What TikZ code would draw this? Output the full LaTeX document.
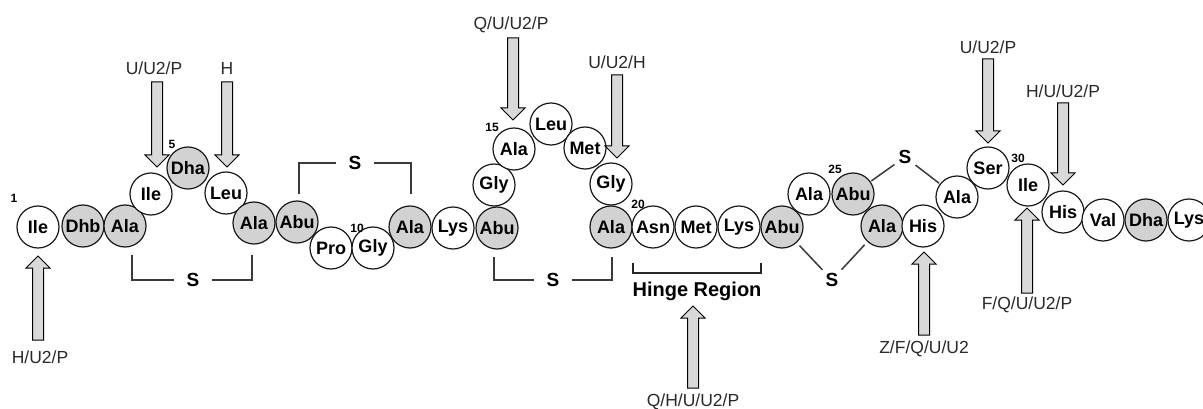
\documentclass[tikz,border=0pt]{standalone}
\usepackage{fontspec}
\setmainfont{Liberation Sans}
\definecolor{shade}{HTML}{D2D2D2}
\definecolor{arrowgray}{HTML}{D9D9D9}
\definecolor{bondgray}{HTML}{3A3A3A}
\definecolor{labgray}{HTML}{2A2A2A}
\newcommand\downblk[3]{\path[blk] ({#1-5.5},#2) -- ({#1-5.5},{#3-12}) -- ({#1-12},{#3-12}) -- (#1,#3) -- ({#1+12},{#3-12}) -- ({#1+5.5},{#3-12}) -- ({#1+5.5},#2) -- cycle;}
\newcommand\upblk[3]{\path[blk] ({#1-5.5},#2) -- ({#1-5.5},{#3+12}) -- ({#1-12},{#3+12}) -- (#1,#3) -- ({#1+12},{#3+12}) -- ({#1+5.5},{#3+12}) -- ({#1+5.5},#2) -- cycle;}
\begin{document}
\begin{tikzpicture}[x=1pt,y=-1pt,
  res/.style={circle,draw=black!90,line width=1.2pt,minimum size=42pt,inner sep=0pt,font=\fontsize{18}{18}\selectfont\bfseries,fill=white},
  dark/.style={res,fill=shade},
  num/.style={font=\fontsize{12}{12}\selectfont\bfseries,inner sep=0pt},
  lab/.style={font=\fontsize{17.5}{17.5}\selectfont,inner sep=0pt,text=labgray},
  sulf/.style={font=\fontsize{19}{19}\selectfont\bfseries,inner sep=0pt,inner xsep=12pt},
  bond/.style={draw=bondgray,line width=1.5pt},
  blk/.style={draw=black,line width=1pt,fill=arrowgray,line join=miter}]
\useasboundingbox[fill=white] (0,0) rectangle (1203,409);

% residues
\node[res]  (r1)  at (38,227)  {Ile};
\node[dark] (r2)  at (83,226)  {Dhb};
\node[dark] (r3)  at (125,226) {Ala};
\node[res]  (r4)  at (151,194) {Ile};
\node[dark] (r5)  at (188,168) {Dha};
\node[res]  (r6)  at (226,193) {Leu};
\node[dark] (r7)  at (254,223) {Ala};
\node[dark] (r8)  at (297,222) {Abu};
\node[res]  (r9)  at (331,248) {Pro};
\node[res]  (r10) at (373,248) {Gly};
\node[dark] (r11) at (410,227) {Ala};
\node[res]  (r12) at (453,228) {Lys};
\node[dark] (r13) at (497,228) {Abu};
\node[res]  (r14) at (494,185) {Gly};
\node[res]  (r15) at (514,149) {Ala};
\node[res]  (r16) at (551,124) {Leu};
\node[res]  (r17) at (585,148) {Met};
\node[res]  (r18) at (611,184) {Gly};
\node[dark] (r19) at (611,227) {Ala};
\node[res]  (r20) at (653,227) {Asn};
\node[res]  (r21) at (696,227) {Met};
\node[res]  (r22) at (739,227) {Lys};
\node[dark] (r23) at (782,227) {Abu};
\node[res]  (r24) at (809,194) {Ala};
\node[dark] (r25) at (853,194) {Abu};
\node[dark] (r26) at (882,226) {Ala};
\node[res]  (r27) at (923,226) {His};
\node[res]  (r28) at (957,197) {Ala};
\node[res]  (r29) at (988,168) {Ser};
\node[res]  (r30) at (1028,185) {Ile};
\node[res]  (r31) at (1063,212) {His};
\node[res]  (r32) at (1103,220) {Val};
\node[dark] (r33) at (1146,220) {Dha};
\node[res]  (r34) at (1189,220) {Lys};

% residue numbers
\node[num] (n1)  at (14,198)  {1};
\node[num] (n5)  at (172,144) {5};
\node[num] (n10) at (357,228) {10};
\node[num] (n15) at (492,127) {15};
\node[num] (n20) at (638,204) {20};
\node[num] (n25) at (835,169) {25};
\node[num] (n30) at (1018,158) {30};

% thioether bridges
\node[sulf] (s1) at (193,280) {S};
\draw[bond] (132,255) |- (s1.west);
\draw[bond] (252,255) |- (s1.east);
\node[sulf] (s2) at (355,163) {S};
\draw[bond] (299,194) |- (s2.west);
\draw[bond] (411,194) |- (s2.east);
\node[sulf] (s3) at (553,280) {S};
\draw[bond] (494,257) |- (s3.west);
\draw[bond] (612,257) |- (s3.east);
\node[sulf,inner xsep=3pt,inner ysep=5pt] (s4) at (832,280) {S};
\draw[bond,shorten <=4pt] (r23) -- (s4);
\draw[bond,shorten <=4pt] (r26) -- (s4);
\node[sulf,inner xsep=4pt,inner ysep=3pt] (s5) at (905,157) {S};
\draw[bond,shorten <=1pt] (r25) -- (s5);
\draw[bond,shorten <=1pt] (r28) -- (s5);

% hinge region
\draw[draw=black!85,line width=2.2pt] (633,263) -- (633,273) -- (761,273) -- (761,263);
\node[font=\fontsize{20}{20}\selectfont\bfseries,inner sep=0pt] (hinge) at (697,291) {Hinge Region};

% cleavage arrows and labels
\upblk{38}{340}{256}
\node[lab] (l1) at (40,357) {H/U2/P};
\downblk{157}{82}{167}
\node[lab] (l2) at (154,68) {U/U2/P};
\downblk{227}{82}{167}
\node[lab] (l3) at (227,68) {H};
\downblk{513}{38}{120}
\node[lab] (l4) at (511,25) {Q/U/U2/P};
\downblk{617}{75}{158}
\node[lab] (l5) at (617,62) {U/U2/H};
\upblk{693}{388}{306}
\node[lab] (l6) at (693,402) {Q/H/U/U2/P};
\upblk{924}{335}{252}
\node[lab] (l7) at (924,349) {Z/F/Q/U/U2};
\downblk{988}{59}{143}
\node[lab] (l8) at (988,47) {U/U2/P};
\upblk{1027}{293}{208}
\node[lab] (l9) at (1027,305) {F/Q/U/U2/P};
\downblk{1063}{103}{185}
\node[lab] (l10) at (1063,91) {H/U/U2/P};
\end{tikzpicture}
\end{document}
